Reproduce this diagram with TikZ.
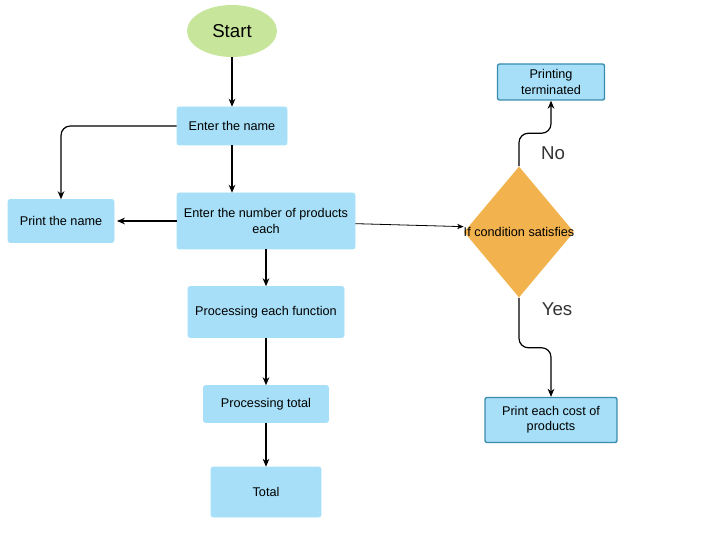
\documentclass[tikz,border=0pt]{standalone}
\usepackage{fontspec}
\setmainfont{Liberation Sans}
\usetikzlibrary{shapes.geometric,arrows.meta}
\definecolor{boxblue}{HTML}{A6DFF7}
\definecolor{boxedge}{HTML}{3A8CAE}
\definecolor{startgreen}{HTML}{C8E69B}
\definecolor{condorange}{HTML}{F2B24E}

\begin{document}
\begin{tikzpicture}[x=0.75pt,y=-0.75pt,
	box/.style={rectangle,rounded corners=1.5pt,fill=boxblue,draw=boxblue,inner sep=0,align=center,font=\fontsize{9.5}{11.5}\selectfont},
	edgebox/.style={box,draw=boxedge,line width=1pt},
	flow/.style={-{Stealth[length=6pt,width=5pt]},line width=0.9pt,rounded corners=7pt},
	lbl/.style={font=\fontsize{14}{16}\selectfont,text=black!80}]
	\useasboundingbox (0,0) rectangle (721,541);
	\node[ellipse,fill=startgreen,inner sep=0,minimum width=67.5pt,minimum height=39pt,font=\fontsize{14}{16}\selectfont] (start) at (232,31) {Start};
	\node[box,minimum width=82.5pt,minimum height=28.5pt] (name) at (232,126) {Enter the name};
	\node[box,minimum width=133.5pt,minimum height=42pt,font=\fontsize{9.5}{12}\selectfont] (number) at (266,221) {Enter the number of products\\each};
	\node[box,minimum width=79.5pt,minimum height=32.25pt] (printname) at (61,221) {Print the name};
	\node[box,minimum width=117pt,minimum height=38.25pt] (func) at (266,312) {Processing each function};
	\node[box,minimum width=93.75pt,minimum height=27.75pt] (proctotal) at (266,404) {Processing total};
	\node[box,minimum width=82.5pt,minimum height=37.5pt] (total) at (266,492) {Total};
	\node[diamond,fill=condorange,inner sep=0,minimum width=82.5pt,minimum height=98.25pt,label={[font=\fontsize{9.5}{11.5}\selectfont]center:If condition satisfies}] (cond) at (519,232) {};
	\node[edgebox,minimum width=80.25pt,minimum height=27pt] (term) at (551,82) {Printing\\terminated};
	\node[edgebox,minimum width=99pt,minimum height=33.75pt] (cost) at (551,420) {Print each cost of\\products};
	\node[lbl] (no) at (553,153) {No};
	\node[lbl] (yes) at (557,309) {Yes};
	\draw[flow] (start) -- (name);
	\draw[flow] (name.south) -- (name.south |- number.north);
	\draw[flow] (name.west) -| (printname.north);
	\draw[flow,shorten >=2pt] (number.west) -- (printname.east);
	\draw[flow] (number) -- (func);
	\draw[flow] (func) -- (proctotal);
	\draw[flow] (proctotal) -- (total);
	\draw[-{Stealth[length=5pt,width=4pt]},line width=0.6pt] ([yshift=-2pt]number.east) -- ([yshift=4pt]cond.west);
	\draw[flow] (cond.north) -- ++(0,-33) -| (term.south);
	\draw[flow] (cond.south) -- ++(0,50) -| (cost.north);
\end{tikzpicture}
\end{document}
